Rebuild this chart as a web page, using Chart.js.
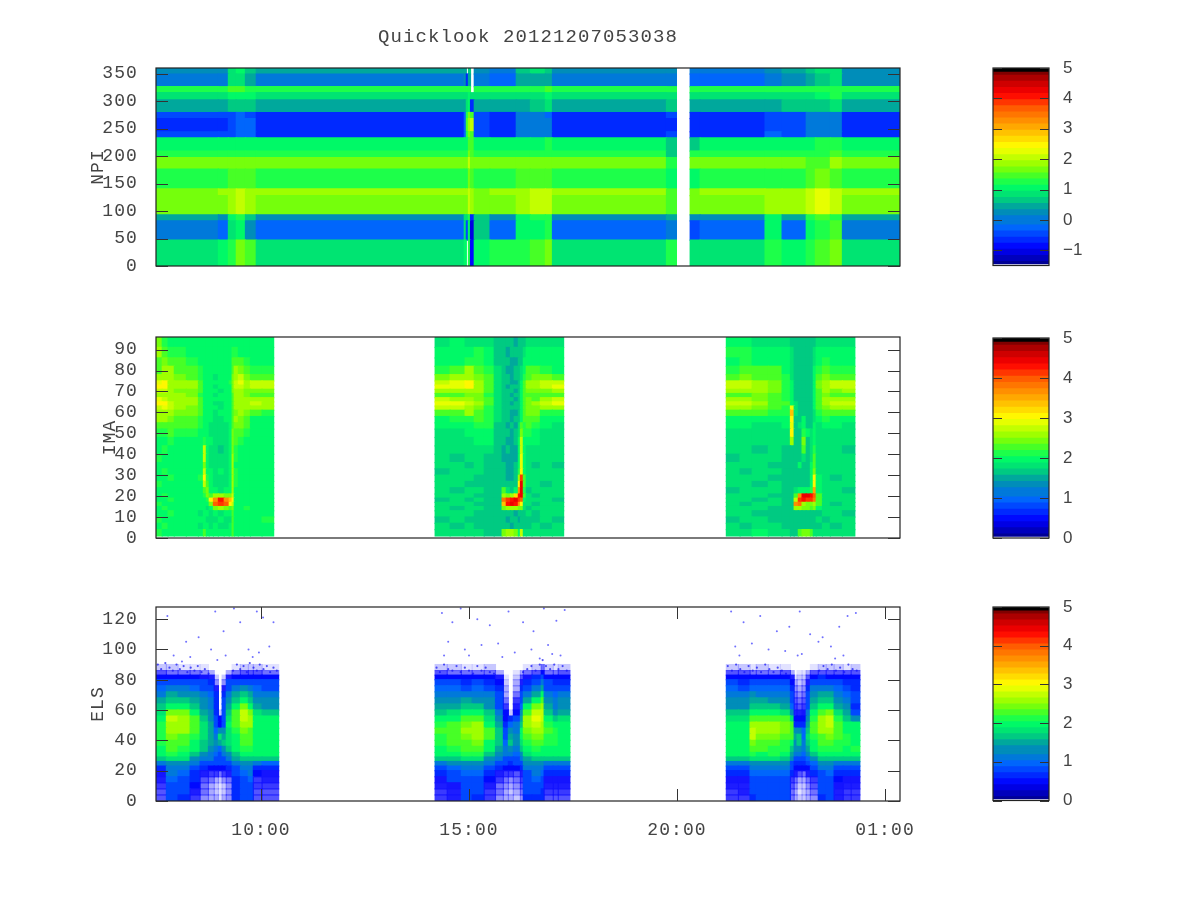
<!DOCTYPE html>
<html>
<head>
<meta charset="utf-8">
<title>Quicklook</title>
<script src="https://cdn.jsdelivr.net/npm/chart.js@4"></script>
<style>
  html,body{margin:0;padding:0;background:#fff;}
  canvas{position:absolute;left:0;top:0;}
</style>
</head>
<body>
<canvas id="npi" width="1200" height="900"></canvas>
<canvas id="ima" width="1200" height="900"></canvas>
<canvas id="els" width="1200" height="900"></canvas>
<canvas id="cbNpi" width="1200" height="900"></canvas>
<canvas id="cbIma" width="1200" height="900"></canvas>
<canvas id="cbEls" width="1200" height="900"></canvas>
<script>
const titleText = 'Quicklook 20121207053038';
const timeTicks = [10, 15, 20, 25];
const timeLabels = ['10:00', '15:00', '20:00', '01:00'];
const npiTicks = [0, 50, 100, 150, 200, 250, 300, 350];
const imaTicks = [0, 10, 20, 30, 40, 50, 60, 70, 80, 90];
const elsTicks = [0, 20, 40, 60, 80, 100, 120];
const cbNpiTicks = [-1, 0, 1, 2, 3, 4, 5];
const cbTicks = [0, 1, 2, 3, 4, 5];

// colour table (position on a 0-5 bar, rgb)
const paletteStops = [0, 0.5, 1, 1.4, 1.7, 2, 2.3, 2.5, 3, 3.5, 4, 4.35, 4.7, 4.95];
const paletteRgb = [[0,0,130],[0,0,255],[0,100,255],[0,150,170],[0,215,120],[0,255,100],[80,255,30],[140,255,0],[255,255,0],[255,170,0],[255,90,0],[255,0,0],[190,0,0],[120,0,0]];

// NPI: time edges (hours), sector edges (deg), values x10, bottom row first
const npiEdges = [7.48,8.97,9.21,9.40,9.62,9.88,14.88,14.93,14.98,15.03,15.12,15.50,16.13,16.47,16.83,17.0,19.74,19.98,20.31,20.55,22.11,22.52,23.10,23.32,23.68,23.97,25.36];
const npiRows = [0,47,82,93,128,140,176,197,209,233,244,268,279,302,315,326,349,360];
const npiValues = [
[9,10,13,17,15,9,11,null,12,-8,11,12,13,14,17,8,13,null,8,8,12,10,13,14,17,9],
[0,-2,8,10,3,-1,8,-4,10,-9,7,-1,11,11,13,-1,1,null,-3,-2,10,-1,11,12,14,1],
[4,3,10,13,6,3,9,9,12,-6,7,3,11,12,13,3,4,null,2,2,11,4,13,14,13,4],
[16,17,18,20,18,17,17,17,20,18,16,17,18,21,20,17,15,null,16,17,18,18,21,22,21,17],
[17,18,19,20,19,18,18,18,20,18,17,18,19,21,20,18,15,null,16,18,19,18,21,22,20,18],
[12,12,14,15,14,12,13,13,17,15,12,12,14,15,14,12,11,null,11,12,13,13,15,16,15,12],
[16,16,17,17,17,16,16,16,20,17,17,16,16,16,17,16,12,null,16,16,17,16,15,15,18,16],
[13,13,13,13,13,13,13,13,16,15,13,13,13,13,13,13,6,null,12,13,12,13,12,13,14,13],
[11,11,11,11,11,10,11,11,15,14,11,10,10,11,13,10,6,null,6,10,10,11,11,12,13,10],
[-4,-4,-3,-1,-2,-5,-1,12,16,14,-3,-5,0,1,1,-5,-4,null,-5,-5,-2,-3,1,1,1,-5],
[-5,-5,-3,-1,-2,-6,-1,15,18,20,-3,-6,0,1,1,-6,-5,null,-6,-6,-3,-3,1,1,1,-6],
[-4,-4,-3,-2,-3,-5,-1,13,16,14,-3,-5,0,0,-1,-5,-4,null,-5,-5,-3,-3,0,0,0,-5],
[5,5,6,7,7,5,5,8,10,-5,5,5,5,6,8,5,6,null,4,4,5,6,7,7,9,5],
[8,9,10,10,10,8,9,9,10,9,8,8,9,9,11,8,9,null,8,8,8,9,9,10,12,9],
[12,12,14,14,13,12,12,12,13,null,12,12,12,13,14,12,12,null,12,12,12,12,13,13,13,12],
[1,1,8,9,4,1,3,-5,5,null,1,-1,4,5,4,1,1,null,-2,-2,1,3,5,6,8,2],
[3,3,9,10,6,4,4,null,6,null,3,1,7,8,7,2,2,null,1,1,3,5,7,9,8,3]
];

// IMA: three passes
const imaRows = [1,4,7,10,13,15,17,19,21,24,27,30,33,36,40,44,48,52,55,58,61,63,65,67,69,71,73,75,78,82,86,91,96];
const imaEdges1 = [7.48,7.62,7.76,7.91,8.20,8.49,8.61,8.68,8.75,8.85,8.97,9.11,9.23,9.30,9.35,9.45,9.59,9.74,10.02,10.31];
const imaValues1 = [
[21,20,20,19,20,19,22,20,19,20,19,20,20,22,20,19,20,19,20],
[20,21,19,20,19,18,19,19,18,19,18,18,19,22,19,20,19,20,19],
[21,20,20,19,20,19,20,18,18,18,19,18,18,22,19,20,20,19,21],
[20,20,21,20,20,18,19,19,18,19,18,19,19,23,20,19,20,20,19],
[20,21,20,20,19,19,20,18,20,24,25,24,22,24,19,20,21,20,20],
[21,20,20,19,20,19,20,19,24,40,42,40,30,28,20,19,20,20,20],
[20,20,21,20,20,19,20,21,30,36,43,37,33,30,20,20,19,20,19],
[20,21,20,20,19,20,21,24,22,25,26,24,24,27,20,20,20,20,20],
[20,20,20,19,20,19,23,24,20,19,18,19,20,26,20,19,20,20,19],
[21,20,20,20,20,20,28,23,19,18,18,18,19,26,21,20,19,20,20],
[20,20,21,20,19,21,30,21,19,18,18,18,19,26,21,20,20,19,20],
[20,21,20,20,20,20,28,20,19,18,19,18,19,25,21,20,20,20,20],
[20,20,20,20,20,20,24,20,18,18,18,18,19,25,20,20,20,19,20],
[21,20,20,20,19,20,27,19,18,18,18,18,19,25,21,20,19,20,20],
[20,21,20,20,20,20,27,19,18,18,17,18,19,24,21,20,20,20,20],
[20,20,21,20,20,19,21,19,19,18,18,18,19,24,22,21,20,20,20],
[21,21,22,21,21,20,19,19,18,18,18,18,19,24,23,22,21,20,20],
[23,22,23,22,22,21,19,19,18,18,18,18,19,23,24,24,23,20,20],
[25,25,24,23,23,21,20,19,19,18,18,19,19,22,25,24,23,20,20],
[26,26,25,24,24,22,20,19,19,18,19,19,19,22,24,25,24,22,21],
[28,29,27,25,24,22,20,20,19,19,18,19,20,22,25,26,25,26,25],
[30,30,27,26,25,22,20,20,19,18,18,19,20,22,26,26,26,27,26],
[29,28,25,26,25,22,20,20,19,19,19,19,20,23,25,25,25,26,25],
[25,25,25,25,24,21,20,19,19,18,19,19,20,23,25,25,24,22,22],
[27,28,25,24,24,22,20,20,19,19,18,19,20,24,26,26,24,24,24],
[30,31,26,25,25,22,20,20,19,18,19,19,20,24,27,27,25,28,27],
[29,30,26,25,25,22,20,19,19,19,19,19,21,24,28,29,25,28,27],
[25,26,25,24,23,21,20,20,19,18,19,19,20,24,26,28,24,23,22],
[23,25,25,23,23,21,20,19,19,19,19,19,20,23,25,24,23,21,21],
[23,24,22,22,21,20,20,20,19,19,19,19,20,22,23,22,21,20,20],
[25,22,21,21,20,20,20,19,19,19,19,19,20,21,21,20,20,20,20],
[24,21,20,20,20,20,19,20,19,20,19,20,20,20,20,20,19,20,20]
];
const imaEdges2 = [14.18,14.54,14.90,15.12,15.36,15.60,15.79,15.89,15.99,16.08,16.18,16.23,16.30,16.37,16.51,16.71,17.0,17.28];
const imaValues2 = [
[18,18,18,18,17,17,24,25,26,24,20,27,18,18,18,18,18],
[18,17,18,17,17,16,16,16,15,16,16,17,17,17,18,17,18],
[17,18,17,17,16,16,16,15,16,16,15,16,17,17,17,18,17],
[18,18,18,17,17,16,16,16,16,15,16,17,17,18,17,18,18],
[18,17,18,18,17,16,24,26,25,25,24,24,18,17,18,18,18],
[18,18,18,17,17,17,33,43,44,43,36,30,18,18,17,18,18],
[17,18,17,18,17,17,38,42,43,44,42,40,20,18,18,18,17],
[18,18,18,17,17,17,26,24,25,32,43,44,22,18,17,18,18],
[18,17,18,18,17,16,22,18,17,19,36,44,21,17,18,18,18],
[18,18,17,17,17,16,16,16,16,17,30,44,22,18,18,17,18],
[18,18,18,17,17,16,16,15,15,17,26,42,22,18,18,18,18],
[17,18,18,18,17,16,16,15,15,16,21,31,20,18,18,18,18],
[18,18,17,18,17,16,16,15,15,16,19,29,19,18,17,18,17],
[18,17,18,18,17,16,15,15,15,15,19,29,19,18,18,18,18],
[18,18,18,18,18,17,15,16,15,15,19,28,19,18,18,18,18],
[18,18,18,19,19,17,16,15,15,16,19,27,20,20,19,18,18],
[18,18,19,19,20,17,16,16,15,16,18,24,21,21,19,18,18],
[20,19,20,21,21,17,16,15,16,15,18,22,21,22,21,19,18],
[20,21,21,22,21,18,16,16,15,16,17,20,22,23,22,20,19],
[23,23,25,23,21,18,16,16,15,15,17,20,22,24,24,21,21],
[27,27,26,24,21,18,17,16,16,16,17,19,23,24,24,25,26],
[29,29,27,25,22,18,17,16,15,16,17,20,23,24,25,28,29],
[27,26,25,24,22,18,16,16,16,15,17,20,23,24,23,26,27],
[23,23,24,24,21,18,16,16,15,16,17,20,22,23,23,22,22],
[25,26,26,25,22,18,17,16,16,15,17,19,23,24,24,24,25],
[29,29,30,26,23,18,16,15,16,16,17,20,23,25,26,28,29],
[28,29,30,26,23,18,16,16,15,15,16,19,23,25,25,28,28],
[24,25,25,24,22,18,16,16,15,16,16,18,21,23,24,24,23],
[21,22,25,23,21,18,16,15,15,16,16,18,20,22,22,21,20],
[20,20,21,21,20,17,16,16,15,15,16,17,19,20,20,20,19],
[19,20,20,21,20,17,16,15,16,16,16,17,18,19,20,20,19],
[18,19,18,18,18,17,16,16,16,15,16,17,17,18,18,18,18]
];
const imaEdges3 = [21.18,21.51,21.80,22.19,22.52,22.72,22.81,22.91,23.0,23.10,23.20,23.27,23.34,23.49,23.68,23.97,24.28];
const imaValues3 = [
[18,18,19,18,18,17,17,23,24,24,23,18,18,18,18,18],
[18,17,18,18,17,16,16,17,16,16,17,17,17,18,17,18],
[17,18,18,17,17,16,16,16,16,17,17,17,18,17,18,18],
[18,18,17,17,16,16,17,17,16,16,17,16,17,18,18,17],
[18,18,18,17,17,17,25,26,24,24,23,24,20,18,18,18],
[18,17,18,18,17,17,36,38,26,24,24,25,22,18,17,18],
[18,18,17,18,17,17,28,41,43,42,41,38,22,18,18,18],
[18,18,18,17,17,17,22,36,44,44,43,40,22,18,18,18],
[17,18,18,18,17,16,18,19,20,20,21,35,20,18,18,17],
[18,18,17,18,17,16,16,17,17,17,19,31,19,18,18,18],
[18,18,18,17,17,16,16,17,16,17,19,31,19,18,17,18],
[18,17,18,18,17,16,17,17,17,16,19,24,18,18,18,18],
[18,18,18,17,17,16,16,20,17,17,19,23,18,18,18,18],
[17,18,18,18,17,16,16,17,18,17,18,22,18,18,18,18],
[18,18,17,18,17,16,17,16,22,17,18,21,18,18,18,17],
[18,18,18,18,18,26,16,17,24,17,18,20,18,18,18,18],
[18,18,18,18,18,30,16,17,21,19,18,19,18,18,18,18],
[19,19,18,18,19,29,17,18,19,17,17,19,18,19,19,18],
[20,20,20,20,20,31,17,16,19,17,17,18,20,21,20,19],
[22,22,22,21,21,33,18,17,17,16,17,18,21,23,22,22],
[26,26,24,23,21,29,18,16,17,17,17,19,22,24,25,26],
[28,27,25,23,22,20,18,17,16,16,17,19,23,25,27,28],
[26,26,24,23,21,19,17,17,17,16,17,19,23,25,25,26],
[23,23,24,23,21,19,17,16,16,17,17,19,22,24,23,22],
[25,25,25,24,21,19,17,17,16,16,17,20,23,25,24,25],
[28,27,25,24,21,19,17,16,17,16,17,20,24,26,27,28],
[27,27,25,24,21,19,17,17,16,17,17,20,24,26,27,27],
[23,24,23,23,21,18,17,16,16,16,17,19,22,24,23,23],
[21,22,22,22,20,18,17,16,17,16,17,19,21,22,21,21],
[20,21,20,20,19,18,17,17,16,16,17,18,20,21,20,20],
[21,21,19,19,19,18,17,16,16,17,17,18,19,20,20,20],
[19,19,18,18,18,17,17,17,16,16,17,17,18,18,18,18]
];

// ELS: negative = sparse bins (share of blue speckle in tenths)
const elsRows = [0,4,8,12,16,20,23,26,29,32,36,40,44,48,52,56,60,64,68,72,76,80,83,86,90];
const elsEdges1 = [7.48,7.72,8.0,8.29,8.53,8.73,8.87,8.97,9.06,9.16,9.30,9.50,9.69,9.81,10.02,10.43];
const elsValues1 = [
[-6,8,7,-7,-4,-3,-3,-1,-3,-4,7,8,8,-6,-6],
[-6,8,8,-8,-5,-3,-2,-1,-2,-4,7,8,8,-6,-6],
[-7,9,8,6,-5,-3,-2,-1,-2,-4,7,8,9,-7,-7],
[-8,10,9,7,-6,-5,-3,-2,-4,-5,7,9,10,-7,-8],
[-9,11,10,7,-8,-7,-7,-5,-7,-8,8,10,11,6,-9],
[7,12,12,9,7,6,6,6,6,7,9,12,12,7,7],
[11,13,14,11,9,8,8,8,8,9,11,14,14,11,10],
[17,18,18,14,12,11,9,8,9,12,15,17,17,17,16],
[20,21,20,17,14,12,10,9,11,14,17,20,20,20,20],
[20,22,21,19,16,14,11,10,13,16,19,21,21,20,20],
[21,23,22,20,17,15,13,15,16,18,20,22,22,20,20],
[21,24,23,21,18,15,11,18,15,18,20,23,23,20,20],
[21,25,25,22,18,15,10,14,14,18,21,24,23,20,20],
[21,26,26,23,18,15,8,6,9,19,22,25,25,20,20],
[20,27,26,22,17,14,8,6,9,18,23,27,26,19,19],
[18,24,24,20,15,13,7,-2,8,17,22,27,24,18,17],
[16,20,19,17,14,12,7,null,8,15,20,24,20,15,14],
[15,17,17,15,14,12,7,null,8,14,17,19,17,14,14],
[12,15,14,13,12,10,7,null,7,11,15,16,15,12,12],
[10,12,11,10,9,8,-8,null,-8,9,11,13,12,10,9],
[8,9,9,8,8,7,-4,null,-4,8,9,9,9,8,8],
[6,6,6,6,-9,-8,-2,null,-2,-8,6,6,6,6,6],
[-6,-5,-5,-5,-4,-3,null,null,null,-3,-5,-6,-6,-6,-5],
[-2,-2,-1,-1,-1,null,null,null,null,null,-1,-2,-2,-2,-1]
];
const elsEdges2 = [14.18,14.47,14.81,15.07,15.36,15.63,15.82,15.94,16.06,16.23,16.30,16.51,16.73,16.80,17.02,17.14,17.43];
const elsValues2 = [
[-7,-8,8,7,-7,-4,-3,-3,-2,-4,7,7,7,-6,-6,-6],
[-7,-8,8,8,-7,-5,-3,-2,-3,-5,8,8,7,-7,-7,-7],
[-8,-9,8,8,-8,-5,-4,-3,-4,-6,8,9,8,-8,-8,-8],
[-9,8,9,9,6,-7,-5,-4,-5,-7,9,10,9,-9,-9,-9],
[7,9,10,10,7,-8,-7,-7,-6,-8,9,11,10,7,7,7],
[8,10,12,12,9,7,6,6,6,7,11,12,11,8,8,8],
[12,13,14,14,11,8,8,7,8,9,13,14,13,12,11,11],
[16,17,18,18,14,11,9,9,9,12,15,17,16,17,17,16],
[19,20,21,21,17,14,11,12,10,14,18,20,19,20,20,19],
[20,21,22,22,19,15,11,14,12,16,20,21,20,20,20,20],
[21,22,23,24,20,16,10,16,13,18,21,22,22,21,21,20],
[21,22,24,26,22,17,9,15,13,19,22,24,24,21,21,20],
[22,23,25,26,22,16,8,13,12,19,24,26,26,22,21,20],
[21,22,24,25,20,15,7,10,11,17,25,28,26,21,19,20],
[19,20,22,22,18,13,6,7,8,15,25,29,27,19,17,18],
[17,18,19,19,16,11,6,-2,6,13,23,28,27,17,14,15],
[15,15,16,16,14,9,-7,null,-8,10,19,24,26,15,12,13],
[14,14,15,14,13,9,-5,null,-7,9,15,19,23,14,11,13],
[12,12,12,12,11,8,-3,null,-5,8,12,15,19,11,10,11],
[10,10,9,10,9,7,-3,null,-3,7,9,12,15,9,8,9],
[8,8,7,8,7,6,-2,null,-3,-8,7,9,11,8,7,7],
[6,6,6,6,6,-8,-1,null,-2,-6,-9,7,8,6,6,6],
[-6,-5,-5,-5,-5,-3,null,null,-1,-3,-5,-6,6,-5,-5,-6],
[-2,-2,-1,-1,-2,null,null,null,null,null,-1,-2,-5,-2,-1,-2]
];
const elsEdges3 = [21.18,21.47,21.75,21.90,22.19,22.48,22.72,22.81,22.88,23.0,23.10,23.20,23.39,23.58,23.77,23.99,24.18,24.40];
const elsValues3 = [
[-7,-7,7,8,8,8,-5,-3,-2,-2,-3,-4,7,8,-8,-7,-7],
[-7,-8,8,8,8,8,-5,-3,-1,-2,-3,-5,8,8,-8,-7,-7],
[-8,-8,8,8,9,8,-6,-4,-2,-2,-4,-6,8,8,-9,-8,-8],
[-9,-9,9,9,9,9,-7,-5,-3,-3,-5,-7,8,9,6,-9,-9],
[7,7,10,10,10,10,7,-8,-6,-5,-8,7,9,10,7,7,7],
[8,8,12,12,12,11,8,6,6,6,6,8,11,12,9,8,8],
[12,12,14,14,14,13,8,7,7,7,8,10,14,14,12,11,11],
[17,17,18,18,18,17,13,9,9,9,10,14,17,17,17,17,17],
[20,20,21,20,21,20,15,11,12,10,13,17,20,20,20,20,20],
[20,20,22,22,21,21,17,13,14,11,15,19,21,21,21,20,21],
[20,20,24,22,22,21,19,13,16,12,17,20,22,23,21,21,20],
[20,20,27,24,24,22,22,15,16,10,18,21,23,24,22,21,20],
[20,20,27,25,26,24,23,14,14,10,17,22,25,26,23,20,20],
[19,20,26,25,26,24,22,7,7,7,15,22,26,27,22,19,19],
[18,18,23,23,23,22,18,6,6,6,13,21,25,27,21,17,14],
[16,16,19,19,19,18,14,-8,-8,-9,11,19,23,24,18,15,8],
[14,14,16,16,16,15,10,-7,-6,-7,9,16,20,20,15,13,7],
[14,13,15,15,14,14,9,-6,-5,-6,9,15,17,17,14,12,8],
[12,11,13,12,12,12,8,-5,-4,-5,8,13,15,15,12,10,8],
[10,9,10,10,10,10,7,-4,-3,-4,7,11,12,12,10,8,7],
[8,7,8,8,8,8,6,-3,-2,-3,-8,8,9,9,8,7,7],
[6,6,6,6,6,6,-8,-1,-2,-2,-6,6,7,6,6,6,6],
[-6,-6,-5,-5,-5,-6,-3,null,-1,-1,-3,-6,-6,-6,-6,-6,-6],
[-2,-2,-1,-2,-1,-1,null,null,null,null,null,-1,-2,-2,-2,-1,-2]
];
// stray counts above the belt, the fringe on top of it and the white drop-outs near 15:00
const elsSpecks = [[8.9,125],[7.75,122],[8.2,105],[8.5,108],[7.9,96],[8.3,95],[8.8,100],[9.35,127],[9.5,118],[9.9,125],[10.05,121],[10.3,118],[9.1,112],[9.7,100],[9.8,95],[10.2,102],[9.95,98],[9.15,96],[8.95,93],[8.1,92],
[14.35,124],[14.6,118],[14.8,127],[15.2,120],[15.5,116],[15.95,125],[16.3,118],[16.55,112],[16.8,127],[17.1,119],[17.3,126],[14.5,105],[14.9,100],[15.3,103],[15.7,104],[16.1,98],[16.5,100],[16.9,103],[17.2,96],[14.4,96],[15.0,96],[15.8,95],[16.7,94],[17.0,97],
[21.3,125],[21.6,118],[22.0,122],[22.4,112],[22.7,115],[22.95,125],[23.2,110],[23.5,108],[23.9,115],[24.1,122],[24.3,124],[21.4,102],[21.8,104],[22.2,100],[22.6,99],[23.0,97],[23.4,105],[23.7,102],[24.0,96],[21.5,96],[22.9,96],[23.8,94]];
const elsFringe = [[7.52,90],[7.6,87],[7.7,91],[7.8,88],[7.88,86],[7.97,90],[8.05,87],[8.14,89],[8.23,85],[8.31,88],[8.4,86],[8.48,89],[8.57,85],[8.65,87],[8.74,84],[9.33,86],[9.42,90],[9.5,87],[9.58,89],[9.66,85],[9.73,91],[9.82,88],[9.9,86],[9.97,90],[10.06,87],[10.14,89],[10.22,85],[10.3,88],[10.38,86],
[14.22,88],[14.3,85],[14.4,90],[14.5,87],[14.6,86],[14.7,89],[14.8,85],[14.9,88],[15.0,86],[15.1,84],[15.2,89],[15.3,86],[15.4,88],[15.5,85],[15.6,84],[16.3,85],[16.4,87],[16.5,89],[16.6,86],[16.7,90],[16.77,93],[16.85,89],[16.95,87],[17.05,90],[17.15,87],[17.25,89],[17.35,86],
[21.22,89],[21.32,86],[21.42,90],[21.52,87],[21.62,85],[21.72,89],[21.82,86],[21.92,88],[22.02,85],[22.12,90],[22.22,87],[22.32,85],[22.42,88],[22.52,86],[22.62,84],[23.42,86],[23.52,89],[23.62,87],[23.72,90],[23.82,86],[23.92,88],[24.02,85],[24.12,90],[24.22,87],[24.32,86]];
const elsDropouts = [[15.07,80],[15.07,65],[15.07,48],[15.07,32],[15.07,17],[15.07,1]];

const timeMin = 7.476, timeMax = 25.36;
const monoFont = { family: '"Liberation Mono", monospace', size: 18 };
const sansFont = { family: '"Liberation Sans", sans-serif', size: 17 };
const inkColor = '#444';

function rgbAt(p){
  // stepped bar like gnuplot's palette
  if(p >= 4.95) return 'rgb(0,0,0)';
  const q = (Math.floor(Math.max(0,p) / 5 * 32) + 0.5) / 32 * 5;
  let i = 0;
  while(i < paletteStops.length - 2 && q > paletteStops[i+1]) i++;
  const f = Math.min(1, (q - paletteStops[i]) / (paletteStops[i+1] - paletteStops[i]));
  const c = paletteRgb[i].map((a, k) => Math.round(a + (paletteRgb[i+1][k] - a) * f));
  return `rgb(${c[0]},${c[1]},${c[2]})`;
}
const npiColor = v => rgbAt((v / 10 + 1.5) / 6.5 * 5);
const imaColor = v => rgbAt(v / 10);
const elsColor = v => v < 0 ? `rgba(20,20,255,${Math.min(1, -v / 10 * 1.2)})` : rgbAt(v / 10);

function heatDatasets(rows, passes, colorOf, pxPerUnit){
  const sets = [];
  for(let r = 0; r < rows.length - 1; r++){
    const data = [], colors = [];
    passes.forEach(([edges, values]) => {
      values[r].forEach((v, c) => {
        if(v === null) return;
        const end = edges[c+1] + (c < values[r].length - 1 ? 0.012 : 0);
        data.push({ x: [edges[c], end], y: (rows[r] + rows[r+1]) / 2 });
        colors.push(colorOf(v));
      });
    });
    sets.push({ data, backgroundColor: colors, borderWidth: 0, grouped: false, barThickness: (rows[r+1] - rows[r]) * pxPerUnit + 0.6 });
  }
  return sets;
}

// gnuplot style frame with inward ticks, drawn over the image
function framePlugin(tickLen, drawX){
  return {
    id: 'frame',
    afterDatasetsDraw(chart){
      const { ctx, chartArea: a, scales } = chart;
      ctx.save();
      ctx.strokeStyle = '#222';
      ctx.lineWidth = 1.2;
      ctx.strokeRect(a.left, a.top, a.right - a.left, a.bottom - a.top);
      ctx.lineWidth = 1;
      ctx.strokeStyle = '#333';
      ctx.beginPath();
      scales.y.ticks.forEach(t => {
        const y = Math.round(scales.y.getPixelForValue(t.value)) + 0.5;
        ctx.moveTo(a.left, y); ctx.lineTo(a.left + tickLen, y);
        ctx.moveTo(a.right, y); ctx.lineTo(a.right - tickLen, y);
      });
      if(drawX) scales.x.ticks.forEach(t => {
        const x = Math.round(scales.x.getPixelForValue(t.value)) + 0.5;
        ctx.moveTo(x, a.bottom); ctx.lineTo(x, a.bottom - tickLen);
        ctx.moveTo(x, a.top); ctx.lineTo(x, a.top + tickLen);
      });
      ctx.stroke();
      ctx.restore();
    }
  };
}
function spacingPlugin(px){
  return { id: 'spacing', beforeDraw(chart){ chart.ctx.letterSpacing = px; } };
}

function yAxis(min, max, ticks, font, position, width, padding, title){
  return {
    type: 'linear', position, min, max, offset: false,
    grid: { display: false, offset: false }, border: { display: false },
    afterBuildTicks(s){ s.ticks = ticks.map(value => ({ value })); },
    afterFit(s){ s.width = width; },
    ticks: { font, color: inkColor, padding, autoSkip: false,
      callback: v => v < 0 ? '\u2212' + (-v) : String(v) },
    title: title ? { display: true, text: title, font: monoFont, color: inkColor, padding: 0 } : { display: false }
  };
}

function panel(id, sets, yMin, yMax, ticks, label, labelX, top, bottom, withTime, withTitle){
  const x = {
    type: 'linear', min: timeMin, max: timeMax, display: !!withTime,
    grid: { display: false }, border: { display: false },
    afterBuildTicks(s){ s.ticks = timeTicks.map(value => ({ value })); },
    afterFit(s){ s.height = withTime ? 50 : 0; },
    ticks: { font: monoFont, color: inkColor, padding: 10, autoSkip: false, maxRotation: 0,
      callback: v => timeLabels[timeTicks.indexOf(v)] }
  };
  return new Chart(document.getElementById(id), {
    type: 'bar',
    data: { datasets: sets },
    plugins: [framePlugin(12, withTime), spacingPlugin('1.1px')],
    options: {
      indexAxis: 'y', responsive: false, animation: false, events: [],
      layout: { padding: { left: labelX, right: 300, top: withTitle ? 10 : top, bottom: 900 - bottom - (withTime ? 50 : 0) } },
      plugins: {
        legend: { display: false }, tooltip: { enabled: false },
        title: withTitle ? { display: true, text: titleText, font: { family: monoFont.family, size: 19, weight: 'normal' }, color: inkColor, fullSize: false, padding: { top: 15.6, bottom: 19.6 } } : { display: false }
      },
      scales: { x, y: yAxis(yMin, yMax, ticks, monoFont, 'left', 156 - labelX, 10, label) }
    }
  });
}

function colorbar(id, yMin, yMax, ticks, top, bottom, colorOf){
  const plotH = bottom - top, unit = plotH / (yMax - yMin);
  const levels = 64, step = (yMax - yMin - 2 / unit) / levels;
  const data = [], colors = [];
  for(let i = 0; i < levels; i++){
    const v = yMin + 2 / unit + step * (i + 0.5);
    data.push({ x: [0, 1], y: v });
    colors.push(colorOf(v));
  }
  return new Chart(document.getElementById(id), {
    type: 'bar',
    data: { datasets: [{ data, backgroundColor: colors, borderWidth: 0, grouped: false, barThickness: step * unit + 0.6 }] },
    plugins: [framePlugin(9, false)],
    options: {
      indexAxis: 'y', responsive: false, animation: false, events: [],
      layout: { padding: { left: 993, right: 101, top, bottom: 900 - bottom } },
      plugins: { legend: { display: false }, tooltip: { enabled: false } },
      scales: {
        x: { type: 'linear', min: 0, max: 1, display: false },
        y: yAxis(yMin, yMax, ticks, sansFont, 'right', 50, 6)
      }
    }
  });
}

Chart.defaults.font.family = monoFont.family;

const npiSets = heatDatasets(npiRows, [[npiEdges, npiValues]], npiColor, 198 / 360);
const imaSets = heatDatasets(imaRows, [[imaEdges1, imaValues1], [imaEdges2, imaValues2], [imaEdges3, imaValues3]], imaColor, 201 / 96);
const elsSets = heatDatasets(elsRows, [[elsEdges1, elsValues1], [elsEdges2, elsValues2], [elsEdges3, elsValues3]], elsColor, 194 / 128);
elsSets.push({ type: 'scatter', indexAxis: 'x', data: elsSpecks.map(p => ({ x: p[0], y: p[1] })), pointRadius: 1, pointBorderWidth: 0, backgroundColor: 'rgba(50,50,255,0.7)', showLine: false });
elsSets.push({ type: 'scatter', indexAxis: 'x', data: elsFringe.map(p => ({ x: p[0], y: p[1] })), pointRadius: 1.1, pointBorderWidth: 0, backgroundColor: 'rgba(30,30,240,0.75)', showLine: false });
elsSets.push({ type: 'scatter', indexAxis: 'x', data: elsDropouts.map(p => ({ x: p[0], y: p[1] })), pointRadius: 1.3, pointBorderWidth: 0, backgroundColor: '#fff', showLine: false });

panel('npi', npiSets, 0, 360, npiTicks, 'NPI', 87, 68, 266, false, true);
panel('ima', imaSets, 0, 96, imaTicks, 'IMA', 99, 337, 538, false, false);
panel('els', elsSets, 0, 128, elsTicks, 'ELS', 87, 607, 801, true, false);

colorbar('cbNpi', -1.5, 5, cbNpiTicks, 68, 265.5, v => rgbAt((v + 1.5) / 6.5 * 5));
colorbar('cbIma', 0, 5, cbTicks, 338, 538, rgbAt);
colorbar('cbEls', 0, 5, cbTicks, 607, 800.5, rgbAt);
</script>
</body>
</html>
